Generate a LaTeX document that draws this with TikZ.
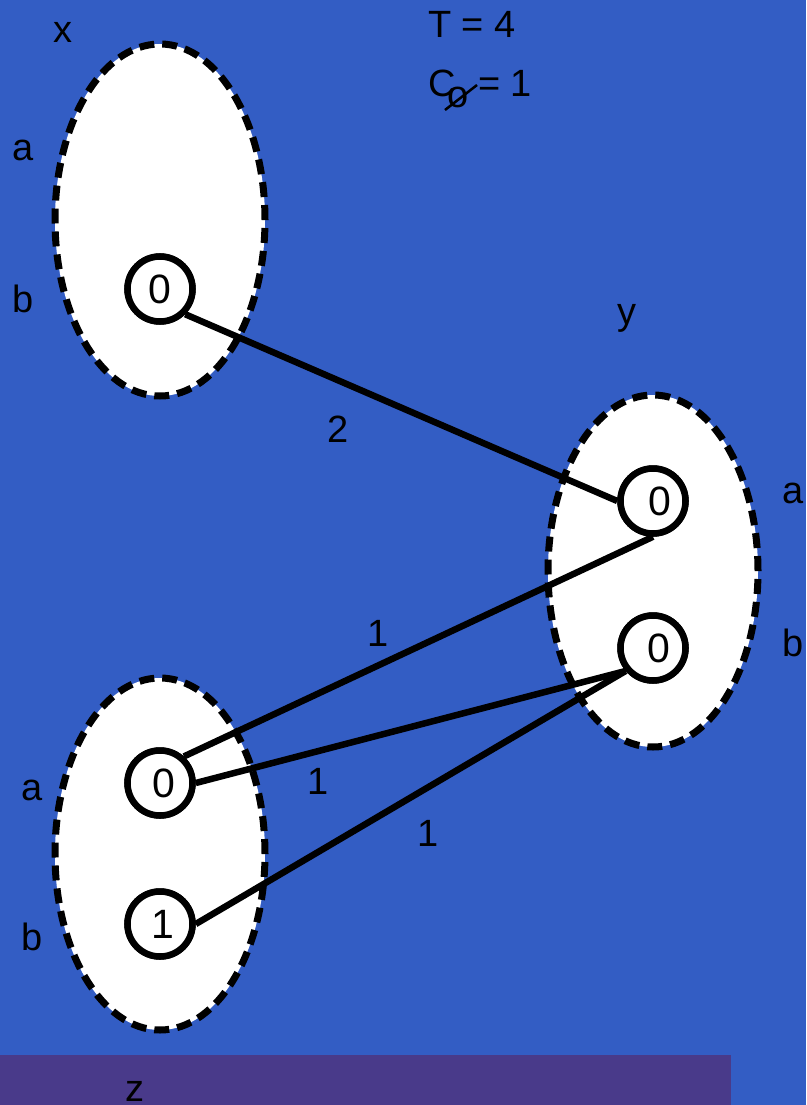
\documentclass[tikz,border=0pt]{standalone}
\usepackage{fontspec}
\setmainfont{Liberation Sans}
\usetikzlibrary{shapes.geometric}
\definecolor{bgblue}{RGB}{51,93,196}
\definecolor{barpurple}{RGB}{73,58,138}
\newcommand{\dig}[2]{\hspace*{#1pt}#2}
\tikzset{
  lbl/.style={font=\fontsize{38}{40}\selectfont, inner sep=0pt, anchor=base},
  grp/.style={ellipse, draw=black, fill=white, line width=7pt, dash pattern=on 15pt off 8pt, minimum width=210pt, minimum height=352pt, inner sep=0pt},
  val/.style={circle, draw=black, fill=white, line width=6.5pt, minimum size=65pt, inner sep=0pt, font=\fontsize{41}{42}\selectfont},
  edge/.style={draw=black, line width=6.5pt}
}
\begin{document}
\begin{tikzpicture}[x=1pt,y=-1pt]
\useasboundingbox (0,0) rectangle (806,1105);
\fill[bgblue] (0,0) rectangle (806,1105);
\fill[barpurple] (0,1055) rectangle (731,1105);
% groups
\node[grp] (gx) at (160,220) {};
\node[grp] (gy) at (653,571) {};
\node[grp] (gz) at (160,854) {};
% value nodes (positions)
\coordinate (pxb) at (160,289);
\coordinate (pya) at (653,501);
\coordinate (pyb) at (653,648);
\coordinate (pza) at (160,783);
\coordinate (pzb) at (160,924);
\node[val] (xb) at (pxb) {\dig{0}{0}};
\node[val] (ya) at (pya) {\dig{14}{0}};
\node[val] (yb) at (pyb) {\dig{12}{0}};
\node[val] (za) at (pza) {\dig{8}{0}};
\node[val] (zb) at (pzb) {\dig{6}{1}};
% edges
\draw[edge] (xb.-45) -- (ya.west);
\draw[edge] (ya.south) -- (za.48);
\draw[edge] (yb.220) -- (za.east);
\draw[edge] (yb.220) -- (zb.east);
% circles on top of edge ends
\node[val] at (pxb) {\dig{0}{0}};
\node[val] at (pya) {\dig{14}{0}};
\node[val] at (pyb) {\dig{12}{0}};
\node[val] at (pza) {\dig{8}{0}};
\node[val] at (pzb) {\dig{6}{1}};
% edge labels
\node[lbl] (w1) at (338,442) {2};
\node[lbl] (w2) at (378,646) {1};
\node[lbl] (w3) at (318,794) {1};
\node[lbl] (w4) at (428,846) {1};
% group labels
\node[lbl] (lx) at (63,43) {x};
\node[lbl] (lxa) at (23,160) {a};
\node[lbl] (lxb) at (23,312) {b};
\node[lbl] (ly) at (627,324) {y};
\node[lbl] (lya) at (793,503) {a};
\node[lbl] (lyb) at (793,656) {b};
\node[lbl] (lza) at (32,800) {a};
\node[lbl] (lzb) at (32,950) {b};
\node[lbl] (lz) at (135,1101) {z};
% header
\node[lbl, anchor=base west] (tt) at (428,38) {T = 4};
\node[lbl, anchor=base west] (cc) at (428,97) {C};
\node[lbl, anchor=base west] (co) at (447,108) {o};
\node[lbl, anchor=base west] (ce) at (478,97) {= 1};
\coordinate (s1) at (445,110);
\coordinate (s2) at (477,85);
\draw[line width=2.5pt] (s1) -- (s2);
\end{tikzpicture}
\end{document}
